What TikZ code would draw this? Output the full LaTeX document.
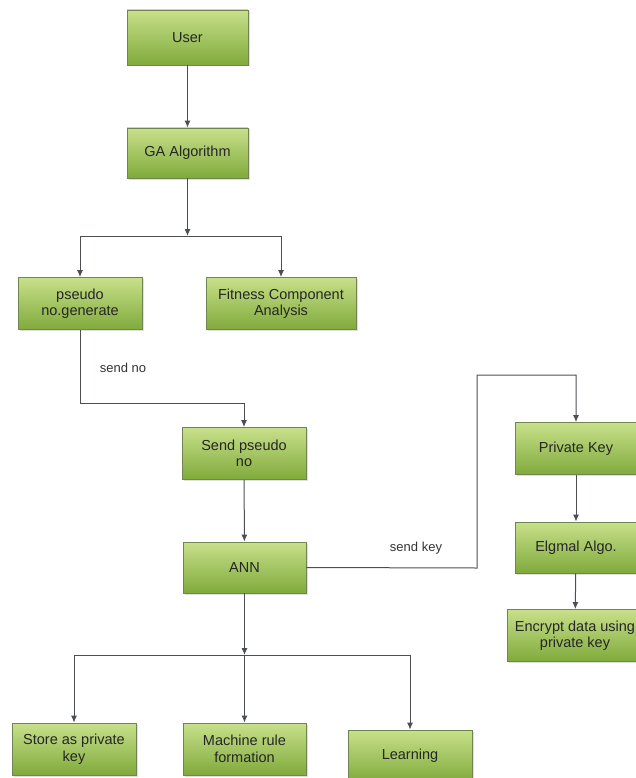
\documentclass[tikz,border=0pt]{standalone}
\usepackage{fontspec}
\setmainfont{Liberation Sans}
\usetikzlibrary{arrows.meta,shadows}
\definecolor{boxtop}{RGB}{200,224,138}
\definecolor{boxbot}{RGB}{128,170,60}
\definecolor{boxline}{RGB}{112,134,80}
\definecolor{wire}{RGB}{75,78,85}
\tikzset{
  gbox/.style={draw=boxline, line width=0.8pt, top color=boxtop, bottom color=boxbot,
    minimum width=#1, minimum height=52pt, inner sep=1pt, align=center,
    font=\fontsize{14.5}{16.5}\selectfont, text=black!85,
    drop shadow={shadow xshift=1.5pt, shadow yshift=-1.5pt, opacity=0.25}},
  wireline/.style={draw=wire, line width=1pt},
  arr/.style={wireline, -{Latex[length=7pt,width=6pt]}},
  lbl/.style={font=\fontsize{13}{15}\selectfont, text=black!80}
}
\begin{document}
\begin{tikzpicture}[x=1pt,y=-1pt]
\useasboundingbox (0,0) rectangle (635,778);
\node[gbox=121pt, minimum height=55pt] (user) at (187.5,37.5) {User};
\node[gbox=121pt, minimum height=50pt] (ga) at (187.5,153) {GA Algorithm};
\node[gbox=124pt] (pseudo) at (80,303.5) {pseudo\\no.generate};
\node[gbox=150pt] (fit) at (281,303.5) {Fitness Component\\Analysis};
\node[gbox=124pt] (send) at (244,453.5) {Send pseudo\\no};
\node[gbox=123pt, minimum height=51pt] (ann) at (244.5,567.5) {ANN};
\node[gbox=124pt] (store) at (74,749) {Store as private\\key};
\node[gbox=123pt] (mach) at (244.5,749) {Machine rule\\formation};
\node[gbox=124pt] (learn) at (410,756) {Learning};
\node[gbox=122pt] (priv) at (576,448.5) {Private Key};
\node[gbox=122pt, minimum height=51pt] (elg) at (576,547.5) {Elgmal Algo.};
\node[gbox=136pt] (enc) at (575,635.5) {Encrypt data using\\private key};

\coordinate (j1) at (187.5,236);
\coordinate (j1l) at (80,236);
\coordinate (j1r) at (281,236);
\coordinate (b1) at (80,403);
\coordinate (b2) at (244,403);
\coordinate (k1) at (477,568);
\coordinate (k2) at (477,375);
\coordinate (k3) at (576,375);
\coordinate (j2) at (244.5,655);
\coordinate (j2l) at (74,655);
\coordinate (j2r) at (410,655);

\draw[arr] (user) -- (ga);
\draw[arr] (ga) -- (j1);
\draw[wireline] (j1l) -- (j1r);
\draw[arr] (j1l) -- (pseudo);
\draw[arr] (j1r) -- (fit);
\draw[arr] (pseudo.south) -- (b1) -- (b2) -- (send.north);
\node[lbl] (sendno) at (123,368) {send no};
\draw[arr] (send) -- (ann);
\draw[arr] (ann.east) -- (k1) -- (k2) -- (k3) -- (priv.north);
\node[lbl] (sendkey) at (416,548) {send key};
\draw[arr] (priv) -- (elg);
\draw[arr] (elg) -- (enc);
\draw[arr] (ann) -- (j2);
\draw[wireline] (j2l) -- (j2r);
\draw[arr] (j2l) -- (store);
\draw[arr] (j2) -- (mach);
\draw[arr] (j2r) -- (learn);
\end{tikzpicture}
\end{document}
